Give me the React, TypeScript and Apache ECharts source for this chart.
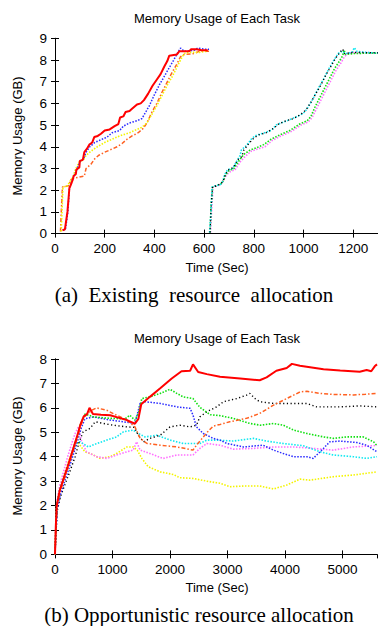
import React, { useEffect, useRef } from "react";
import * as echarts from "echarts";

// ---------- Chart (a): Existing resource allocation ----------
const aXTicks = { min: 0, max: 1300, interval: 200 };
const aYTicks = { min: 0, max: 9, interval: 1 };

const aRed: [number, number][] = [[30,0.15],[40,0.2],[50,1.0],[58,2.1],[62,2.2],[72,2.5],[75,2.65],[84,2.75],[86,2.95],[98,3.05],[100,3.35],[112,3.4],[118,3.75],[128,3.9],[138,4.1],[150,4.2],[158,4.45],[172,4.5],[185,4.6],[200,4.75],[220,4.8],[240,4.95],[255,5.05],[262,5.35],[275,5.4],[284,5.6],[300,5.65],[310,5.75],[330,5.95],[345,6.0],[358,6.15],[375,6.45],[392,6.8],[410,7.1],[425,7.35],[440,7.7],[452,7.95],[460,8.2],[490,8.25],[500,8.4],[540,8.4],[548,8.5],[570,8.5],[590,8.45],[615,8.45]];
const aBlue: [number, number][] = [[32,0.15],[42,0.2],[52,1.0],[58,2.1],[64,2.25],[74,2.6],[86,2.9],[100,3.3],[115,3.45],[125,3.75],[140,4.0],[160,4.2],[180,4.3],[210,4.45],[230,4.65],[260,4.75],[275,4.95],[300,5.1],[330,5.2],[350,5.3],[365,5.6],[380,5.9],[400,6.4],[420,6.85],[440,7.25],[460,7.65],[478,8.0],[492,8.3],[505,8.55],[520,8.4],[560,8.45],[575,8.55],[600,8.5],[620,8.5]];
const aYellow: [number, number][] = [[25,0.1],[28,1.0],[32,2.15],[50,2.2],[60,2.4],[72,2.6],[84,3.0],[98,3.3],[115,3.4],[125,3.6],[145,3.8],[170,4.0],[200,4.2],[230,4.35],[260,4.5],[300,4.65],[330,4.8],[350,4.9],[370,5.1],[390,5.5],[410,5.9],[430,6.35],[450,6.8],[470,7.2],[490,7.65],[505,8.0],[520,8.3],[540,8.35],[580,8.35],[610,8.4]];
const aOrange: [number, number][] = [[22,0.1],[26,1.2],[30,2.15],[55,2.2],[65,2.5],[75,2.55],[95,2.6],[118,2.65],[125,3.0],[145,3.2],[160,3.45],[175,3.6],[200,3.75],[220,3.85],[250,4.0],[270,4.15],[290,4.35],[310,4.5],[335,4.65],[355,4.85],[370,5.1],[390,5.6],[410,6.0],[430,6.5],[450,6.95],[470,7.4],[490,7.8],[505,8.15],[520,8.25],[560,8.3],[580,8.4],[600,8.4],[620,8.4]];
const aCyan: [number, number][] = [[622,0.05],[628,1.0],[632,2.15],[645,2.2],[665,2.25],[675,2.4],[682,2.7],[695,2.95],[715,3.0],[730,3.3],[745,3.6],[750,3.85],[770,4.05],[790,4.35],[805,4.5],[830,4.6],[870,4.75],[890,5.0],[910,5.1],[945,5.25],[985,5.45],[1005,5.6],[1020,5.85],[1040,6.25],[1060,6.7],[1080,7.1],[1100,7.55],[1120,7.95],[1140,8.3],[1155,8.4],[1170,8.3],[1195,8.35],[1205,8.57],[1215,8.4],[1250,8.35],[1300,8.32]];
const aBlack: [number, number][] = [[624,0.05],[628,1.2],[634,2.15],[650,2.2],[668,2.3],[678,2.45],[686,2.75],[700,2.95],[718,3.05],[735,3.4],[752,3.55],[760,3.85],[780,4.15],[800,4.4],[820,4.55],[850,4.65],[880,4.85],[900,5.05],[930,5.2],[960,5.3],[990,5.5],[1010,5.7],[1030,6.05],[1050,6.45],[1070,6.85],[1090,7.3],[1110,7.7],[1130,8.1],[1150,8.4],[1158,8.5],[1165,8.3],[1200,8.35],[1300,8.33]];
const aGreen: [number, number][] = [[624,0.05],[628,1.2],[634,2.15],[650,2.2],[668,2.3],[678,2.45],[686,2.7],[700,2.9],[720,3.0],[740,3.35],[760,3.65],[785,3.85],[810,3.95],[840,4.1],[870,4.35],[905,4.55],[945,4.75],[985,5.05],[1015,5.2],[1030,5.4],[1045,5.8],[1065,6.25],[1085,6.7],[1105,7.15],[1125,7.6],[1145,7.95],[1158,8.2],[1163,8.46],[1170,8.25],[1200,8.3],[1300,8.32]];
const aMagenta: [number, number][] = [[626,0.05],[630,1.0],[636,2.15],[655,2.2],[670,2.3],[680,2.5],[690,2.7],[705,2.85],[725,2.95],[745,3.3],[765,3.55],[790,3.8],[815,3.9],[845,4.0],[875,4.3],[910,4.5],[950,4.7],[990,5.0],[1020,5.15],[1035,5.35],[1050,5.7],[1070,6.15],[1090,6.6],[1110,7.05],[1130,7.5],[1150,7.85],[1165,8.15],[1180,8.3],[1200,8.35],[1300,8.33]];

// ---------- Chart (b): Opportunistic resource allocation ----------
const bXTicks = { min: 0, max: 5600, interval: 1000 };
const bYTicks = { min: 0, max: 8, interval: 1 };

const bRed: [number, number][] = [[0,0],[15,1.2],[30,2.0],[80,2.6],[150,3.1],[220,3.6],[300,4.2],[380,4.8],[440,5.3],[500,5.65],[560,5.75],[600,6.0],[660,5.75],[800,5.72],[960,5.7],[1100,5.6],[1250,5.5],[1390,5.35],[1450,5.55],[1500,6.15],[1650,6.45],[1830,6.8],[2030,7.2],[2200,7.5],[2350,7.52],[2400,7.78],[2490,7.47],[2640,7.38],[2870,7.27],[3220,7.2],[3560,7.13],[3680,7.25],[3850,7.52],[4030,7.63],[4120,7.8],[4260,7.72],[4670,7.58],[4960,7.53],[5300,7.48],[5420,7.55],[5500,7.5],[5560,7.7],[5600,7.78]];
const bOrange: [number, number][] = [[0,0],[15,1.0],[30,1.9],[80,2.5],[150,3.0],[220,3.5],[300,4.1],[380,4.7],[440,5.2],[500,5.6],[560,5.75],[640,5.9],[720,6.0],[900,5.9],[1070,5.7],[1250,5.5],[1390,5.22],[1480,4.75],[1600,4.54],[1830,4.47],[2120,4.4],[2400,4.27],[2460,4.47],[2640,4.98],[2750,5.25],[2870,5.32],[3040,5.43],[3330,5.57],[3560,5.77],[3800,6.11],[4030,6.38],[4260,6.65],[4380,6.68],[4610,6.59],[4840,6.55],[5190,6.53],[5400,6.56],[5600,6.59]];
const bGreen: [number, number][] = [[0,0],[15,1.1],[30,2.0],[80,2.6],[150,3.1],[220,3.6],[300,4.2],[380,4.8],[440,5.3],[520,5.75],[670,5.63],[960,5.57],[1220,5.55],[1300,5.7],[1390,5.5],[1450,5.77],[1510,6.38],[1650,6.45],[1830,6.59],[2000,6.76],[2120,6.59],[2230,6.45],[2400,6.38],[2520,6.02],[2700,5.72],[2870,5.68],[3100,5.57],[3390,5.36],[3570,5.29],[3800,5.36],[3970,5.29],[4150,5.09],[4380,4.95],[4670,4.81],[4840,4.75],[5070,4.81],[5360,4.81],[5540,4.61],[5600,4.45]];
const bBlue: [number, number][] = [[0,0],[20,1.0],[40,1.9],[100,2.5],[170,3.0],[240,3.5],[320,4.1],[400,4.7],[460,5.2],[520,5.55],[670,5.63],[960,5.5],[1190,5.43],[1390,5.36],[1480,6.18],[1565,6.25],[1830,6.18],[2120,6.04],[2350,5.98],[2400,5.7],[2460,5.22],[2580,4.95],[2750,4.75],[2870,4.68],[2990,4.54],[3280,4.4],[3620,4.47],[3800,4.27],[3970,4.13],[4150,4.0],[4380,4.0],[4490,3.93],[4610,4.2],[4780,4.61],[4960,4.64],[5250,4.58],[5420,4.47],[5600,4.2]];
const bBlack: [number, number][] = [[0,0],[20,1.0],[40,1.8],[100,2.4],[180,2.9],[260,3.4],[350,4.0],[420,4.6],[490,5.02],[610,5.16],[700,5.43],[840,5.36],[1010,5.29],[1250,5.22],[1380,5.2],[1450,4.88],[1540,4.61],[1650,4.75],[1830,4.88],[2000,5.22],[2170,5.29],[2350,5.22],[2460,5.29],[2520,5.63],[2640,5.84],[2810,6.04],[2930,6.25],[3160,6.38],[3330,6.52],[3390,6.59],[3480,6.38],[3560,6.25],[3800,6.18],[4150,6.18],[4380,6.18],[4550,6.04],[4960,6.04],[5300,6.08],[5600,6.04]];
const bCyan: [number, number][] = [[0,0],[15,1.1],[30,2.0],[80,2.6],[150,3.1],[220,3.6],[300,4.1],[380,4.55],[435,4.61],[580,4.4],[725,4.54],[900,4.68],[1070,4.81],[1190,5.02],[1360,5.09],[1450,4.95],[1565,4.81],[1770,4.88],[2000,4.68],[2230,4.54],[2520,4.54],[2640,4.68],[2810,4.68],[3100,4.64],[3450,4.75],[3680,4.64],[3970,4.54],[4320,4.45],[4610,4.2],[4840,4.07],[5190,4.0],[5420,3.93],[5600,4.0]];
const bMagenta: [number, number][] = [[0,0],[15,1.3],[30,2.1],[80,2.8],[150,3.4],[220,4.0],[300,4.6],[350,4.95],[406,5.22],[464,4.61],[550,4.2],[725,4.0],[900,3.93],[1070,4.07],[1250,4.2],[1360,4.27],[1420,4.61],[1480,4.27],[1650,4.13],[1880,3.93],[2120,4.07],[2400,4.07],[2520,4.34],[2640,4.54],[2870,4.47],[3100,4.31],[3450,4.34],[3800,4.4],[4150,4.4],[4490,4.34],[4840,4.27],[5190,4.4],[5540,4.45],[5600,4.47]];
const bYellow: [number, number][] = [[0,0],[15,1.2],[30,2.0],[80,2.7],[150,3.2],[220,3.7],[300,4.2],[380,4.6],[435,4.47],[520,4.2],[670,4.07],[780,3.93],[960,4.0],[1070,4.13],[1250,4.4],[1360,4.4],[1430,4.27],[1510,3.93],[1620,3.59],[1830,3.38],[2060,3.27],[2170,3.14],[2400,3.11],[2640,3.0],[2870,2.91],[3040,2.77],[3280,2.8],[3560,2.8],[3800,2.68],[4030,2.84],[4260,3.08],[4430,3.04],[4840,3.18],[5190,3.25],[5540,3.36],[5600,3.38]];

const titleText = "Memory Usage of Each Task";
const xName = "Time (Sec)";
const yName = "Memory Usage (GB)";
const captionA = "(a)  Existing  resource  allocation";
const captionB = "(b) Opportunistic resource allocation";

const FONT = "Liberation Sans";
const SERIF = "Liberation Serif";

const STY: Record<string, { color: string; type: any; width: number }> = {
  red: { color: "#ff0000", type: "solid", width: 2 },
  orange: { color: "#ff6020", type: [4, 2, 1.5, 2], width: 1.5 },
  blue: { color: "#2a2aff", type: [1.5, 1.5], width: 1.5 },
  yellow: { color: "#f4f400", type: [1.5, 1.5], width: 1.6 },
  green: { color: "#10e010", type: [1.5, 1.5], width: 1.6 },
  cyan: { color: "#10e8f0", type: [1.5, 1.5], width: 1.6 },
  black: { color: "#000000", type: [1.2, 2.5], width: 1.4 },
  magenta: { color: "#ff70ff", type: [1.5, 1.5], width: 1.6 },
};

function mkSeries(data: [number, number][], key: string, gi: number) {
  const s = STY[key];
  return {
    type: "line",
    xAxisIndex: gi * 2,
    yAxisIndex: gi * 2,
    data,
    showSymbol: false,
    symbol: "none",
    lineStyle: { color: s.color, type: s.type, width: s.width },
    z: key === "red" ? 5 : 3,
  };
}

function axesFor(gi: number, xt: any, yt: any) {
  const line = { show: true, lineStyle: { color: "#000", width: 1 } };
  const tick = { show: true, inside: true, length: 4, lineStyle: { color: "#000", width: 1 } };
  const lbl = { color: "#000", fontFamily: FONT, fontSize: 13.5, formatter: (v: number) => String(v) };
  const x = [
    { type: "value", gridIndex: gi, position: "bottom", ...xt, axisLine: line, axisTick: tick, splitLine: { show: false },
      axisLabel: { ...lbl, margin: 8, showMaxLabel: false } },
    { type: "value", gridIndex: gi, position: "top", ...xt, axisLine: line, axisTick: tick, splitLine: { show: false },
      axisLabel: { show: false } },
  ];
  const y = [
    { type: "value", gridIndex: gi, position: "left", ...yt, axisLine: line, axisTick: tick, splitLine: { show: false },
      axisLabel: { ...lbl, margin: 8 } },
    { type: "value", gridIndex: gi, position: "right", ...yt, axisLine: line, axisTick: tick, splitLine: { show: false },
      axisLabel: { show: false } },
  ];
  return { x, y };
}

export default function App() {
  const ref = useRef<HTMLDivElement>(null);
  useEffect(() => {
    if (!ref.current) return;
    const chart = echarts.init(ref.current, undefined, { renderer: "svg" });
    const A = axesFor(0, aXTicks, aYTicks);
    const B = axesFor(1, bXTicks, bYTicks);
    const txt = (x: number, y: number, text: string, size: number, family: string, rot = 0) => ({
      type: "text",
      x, y, rotation: rot,
      style: { text, fontSize: size, fontFamily: family, fill: "#000", textAlign: "center", textVerticalAlign: "middle" },
    });
    chart.setOption({
      animation: false,
      backgroundColor: "#fff",
      grid: [
        { left: 55, top: 38.3, width: 323.7, height: 195.3 },
        { left: 55, top: 359, width: 322, height: 195.4 },
      ],
      xAxis: [...A.x, ...B.x],
      yAxis: [...A.y, ...B.y],
      series: [
        mkSeries(aOrange, "orange", 0),
        mkSeries(aYellow, "yellow", 0),
        mkSeries(aBlue, "blue", 0),
        mkSeries(aRed, "red", 0),
        mkSeries(aMagenta, "magenta", 0),
        mkSeries(aGreen, "green", 0),
        mkSeries(aCyan, "cyan", 0),
        mkSeries(aBlack, "black", 0),
        mkSeries(bYellow, "yellow", 1),
        mkSeries(bMagenta, "magenta", 1),
        mkSeries(bCyan, "cyan", 1),
        mkSeries(bBlack, "black", 1),
        mkSeries(bBlue, "blue", 1),
        mkSeries(bGreen, "green", 1),
        mkSeries(bOrange, "orange", 1),
        mkSeries(bRed, "red", 1),
      ],
      graphic: [
        txt(217, 18, titleText, 13, FONT),
        txt(217, 267, xName, 13, FONT),
        txt(17.5, 136, yName, 13, FONT, Math.PI / 2),
        txt(194, 295, captionA, 21, SERIF),
        txt(217, 338, titleText, 13, FONT),
        txt(217, 587, xName, 13, FONT),
        txt(17.5, 456, yName, 13, FONT, Math.PI / 2),
        txt(199, 615, captionB, 21, SERIF),
      ],
    });
    return () => chart.dispose();
  }, []);
  return (
    <div
      ref={ref}
      style={{ position: "fixed", left: 0, top: 0, width: 378, height: 626, background: "#fff" }}
    />
  );
}
